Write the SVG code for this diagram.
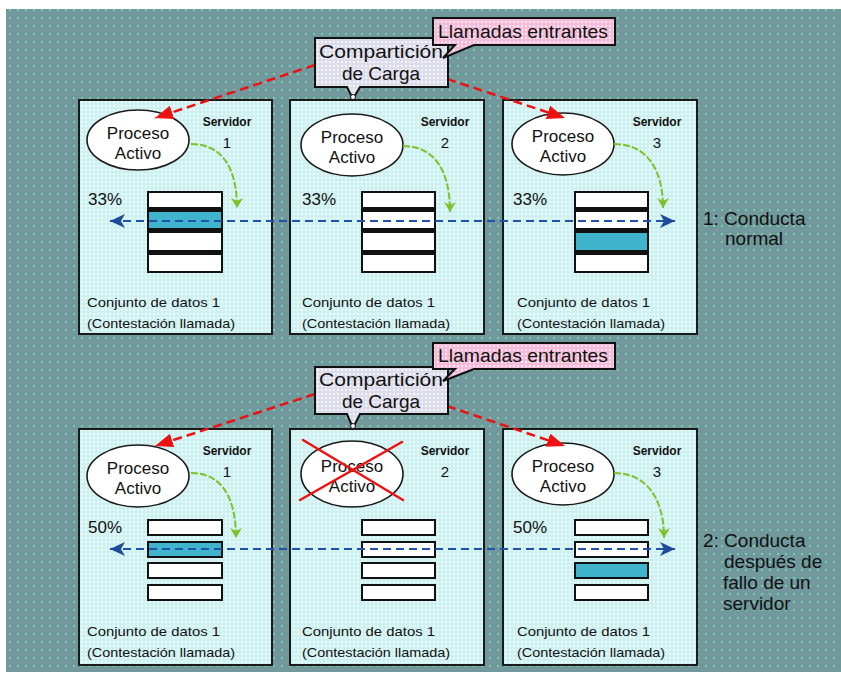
<svg xmlns="http://www.w3.org/2000/svg" width="841" height="677" viewBox="0 0 841 677">
  <defs>
    <pattern id="bgDots" width="8" height="8" patternUnits="userSpaceOnUse">
      <rect width="8" height="8" fill="#6e9a9a"/>
      <rect x="1" y="1" width="2" height="2" fill="#8cc2be"/>
      <rect x="5" y="5" width="2" height="2" fill="#8a8cb2"/>
    </pattern>
    <pattern id="boxDots" width="4" height="4" patternUnits="userSpaceOnUse">
      <rect width="4" height="4" fill="#cdf0f0"/>
      <rect x="1" y="1" width="2" height="2" fill="#eafcfc"/>
    </pattern>
    <pattern id="tagDots" width="4" height="4" patternUnits="userSpaceOnUse">
      <rect width="4" height="4" fill="#dcdcea"/>
      <rect x="1" y="1" width="2" height="2" fill="#f4f4fb"/>
    </pattern>
    <pattern id="pinkDots" width="4" height="4" patternUnits="userSpaceOnUse">
      <rect width="4" height="4" fill="#f4bcd8"/>
      <rect x="1" y="1" width="2" height="2" fill="#fde4f0"/>
    </pattern>
    <marker id="redHead" markerUnits="userSpaceOnUse" markerWidth="20" markerHeight="14" refX="18" refY="7" orient="auto">
      <path d="M0,0 L18,7 L0,14 Z" fill="#ee1111"/>
    </marker>
    <marker id="blueHead" markerUnits="userSpaceOnUse" markerWidth="16" markerHeight="14" refX="15" refY="7" orient="auto-start-reverse">
      <path d="M0,0 L15,7 L0,14 L4,7 Z" fill="#1d4c9c"/>
    </marker>
    <marker id="greenHead" markerUnits="userSpaceOnUse" markerWidth="12" markerHeight="12" refX="6" refY="10" orient="0">
      <path d="M0,0 L6,10 L12,0 L6,3 Z" fill="#7cc22a"/>
    </marker>
    <style>
      .box { fill: url(#boxDots); stroke: #1a1a1a; stroke-width: 2; }
      .proc { fill: #ffffff; stroke: #1a1a1a; stroke-width: 1.6; }
      .row { fill: #ffffff; stroke: #111111; stroke-width: 2; }
      .hi { fill: #3fb4cc; }
      .bar { fill: #111111; }
      .t { font-family: "Liberation Sans", "DejaVu Sans", sans-serif; fill: #111111; }
      .procTxt { font-size: 17px; text-anchor: middle; }
      .srv { font-size: 12px; text-anchor: middle; font-weight: bold; }
      .num { font-size: 15px; text-anchor: middle; }
      .pct { font-size: 17px; }
      .ds { font-size: 13px; }
      .side { font-size: 19px; }
      .hdr { font-size: 19px; text-anchor: middle; }
      .red { fill: none; stroke: #ee1111; stroke-width: 2.5; stroke-dasharray: 9 5; }
      .blue { fill: none; stroke: #1f52a8; stroke-width: 2; stroke-dasharray: 8 5; }
      .green { fill: none; stroke: #7cc22a; stroke-width: 2; stroke-dasharray: 7 2; }
      .cross { stroke: #ee1111; stroke-width: 2.5; stroke-linecap: round; }
    </style>
  </defs>

  <!-- page backdrop -->
  <rect width="841" height="677" fill="#ffffff"/>
  <rect x="6" y="9" width="835" height="663" fill="url(#bgDots)"/>

  <!-- ===== Scenario 1: normal behaviour ===== -->
  <g id="s1-server1">
    <rect class="box" x="79" y="100" width="193" height="234"/>
    <ellipse class="proc" cx="138" cy="140" rx="51" ry="30"/>
    <text class="t procTxt" x="138" y="139">Proceso</text>
    <text class="t procTxt" x="138" y="159">Activo</text>
    <text class="t srv" x="227" y="126">Servidor</text>
    <text class="t num" x="227" y="148">1</text>
    <text class="t pct" x="88" y="205">33%</text>
    <rect class="row" x="148" y="192" width="74" height="80"/>
    <rect class="hi" x="149" y="212" width="72" height="16"/>
    <rect class="bar" x="148" y="207" width="74" height="5"/>
    <rect class="bar" x="148" y="228" width="74" height="5"/>
    <rect class="bar" x="148" y="250" width="74" height="5"/>
    <text class="t ds" x="87" y="307" textLength="133" lengthAdjust="spacingAndGlyphs">Conjunto de datos 1</text>
    <text class="t ds" x="87" y="328" textLength="148" lengthAdjust="spacingAndGlyphs">(Contestación llamada)</text>
  </g>

  <g id="s1-server2">
    <rect class="box" x="290" y="100" width="194" height="234"/>
    <ellipse class="proc" cx="352" cy="145" rx="51" ry="31"/>
    <text class="t procTxt" x="352" y="143">Proceso</text>
    <text class="t procTxt" x="352" y="163">Activo</text>
    <text class="t srv" x="445" y="126">Servidor</text>
    <text class="t num" x="445" y="148">2</text>
    <text class="t pct" x="302" y="205">33%</text>
    <rect class="row" x="362" y="192" width="73" height="80"/>
    <rect class="bar" x="362" y="207" width="73" height="5"/>
    <rect class="bar" x="362" y="228" width="73" height="5"/>
    <rect class="bar" x="362" y="250" width="73" height="5"/>
    <text class="t ds" x="302" y="307" textLength="133" lengthAdjust="spacingAndGlyphs">Conjunto de datos 1</text>
    <text class="t ds" x="302" y="328" textLength="148" lengthAdjust="spacingAndGlyphs">(Contestación llamada)</text>
  </g>

  <g id="s1-server3">
    <rect class="box" x="503" y="100" width="194" height="234"/>
    <ellipse class="proc" cx="563" cy="144" rx="51" ry="31"/>
    <text class="t procTxt" x="563" y="142">Proceso</text>
    <text class="t procTxt" x="563" y="162">Activo</text>
    <text class="t srv" x="657" y="126">Servidor</text>
    <text class="t num" x="657" y="148">3</text>
    <text class="t pct" x="513" y="205">33%</text>
    <rect class="row" x="575" y="192" width="73" height="80"/>
    <rect class="hi" x="576" y="233" width="71" height="17"/>
    <rect class="bar" x="575" y="207" width="73" height="5"/>
    <rect class="bar" x="575" y="228" width="73" height="5"/>
    <rect class="bar" x="575" y="250" width="73" height="5"/>
    <text class="t ds" x="517" y="307" textLength="133" lengthAdjust="spacingAndGlyphs">Conjunto de datos 1</text>
    <text class="t ds" x="517" y="328" textLength="148" lengthAdjust="spacingAndGlyphs">(Contestación llamada)</text>
  </g>

  <g id="s1-connectors">
    <path class="red" d="M315,65 L155,118" marker-end="url(#redHead)"/>
    <path class="red" d="M447,79 L565,118" marker-end="url(#redHead)"/>
    <path class="blue" d="M110,221 L675,221" marker-start="url(#blueHead)" marker-end="url(#blueHead)"/>
    <path class="green" d="M191,144 C222,144 237,168 237,208" marker-end="url(#greenHead)"/>
    <path class="green" d="M403,146 C434,146 450,170 450,212" marker-end="url(#greenHead)"/>
    <path class="green" d="M614,144 C646,144 663,168 663,208" marker-end="url(#greenHead)"/>
  </g>

  <g id="s1-balancer">
    <path d="M315,38 H448 V87 H360 L353,99 L347,87 H315 Z" fill="url(#tagDots)" stroke="#111111" stroke-width="2"/>
    <circle cx="353" cy="97" r="2.5" fill="#ffffff" stroke="#111111" stroke-width="1"/>
    <text class="t hdr" x="381" y="58" textLength="124" lengthAdjust="spacingAndGlyphs">Compartición</text>
    <text class="t hdr" x="381" y="80">de Carga</text>
  </g>

  <g id="s1-incoming">
    <path d="M433,18 H615 V45 H474 L443,58 L455,45 H433 Z" fill="url(#pinkDots)" stroke="#111111" stroke-width="2"/>
    <text class="t" x="438" y="38" font-size="18" textLength="170" lengthAdjust="spacingAndGlyphs">Llamadas entrantes</text>
  </g>

  <g id="label-1">
    <text class="t side" x="703" y="225">1: Conducta</text>
    <text class="t side" x="725" y="245">normal</text>
  </g>

  <!-- ===== Scenario 2: after one server fails ===== -->
  <g id="s2-server1">
    <rect class="box" x="79" y="429" width="193" height="236"/>
    <ellipse class="proc" cx="138" cy="476" rx="51" ry="31"/>
    <text class="t procTxt" x="138" y="474">Proceso</text>
    <text class="t procTxt" x="138" y="494">Activo</text>
    <text class="t srv" x="227" y="455">Servidor</text>
    <text class="t num" x="227" y="477">1</text>
    <text class="t pct" x="88" y="533">50%</text>
    <rect class="row" x="148" y="520" width="74" height="15"/>
    <rect class="row" x="148" y="542" width="74" height="15" style="fill:#3fb4cc"/>
    <rect class="row" x="148" y="563" width="74" height="15"/>
    <rect class="row" x="148" y="585" width="74" height="15"/>
    <text class="t ds" x="87" y="636" textLength="133" lengthAdjust="spacingAndGlyphs">Conjunto de datos 1</text>
    <text class="t ds" x="87" y="657" textLength="148" lengthAdjust="spacingAndGlyphs">(Contestación llamada)</text>
  </g>

  <g id="s2-server2">
    <rect class="box" x="290" y="429" width="194" height="236"/>
    <ellipse class="proc" cx="352" cy="474" rx="51" ry="33"/>
    <text class="t procTxt" x="352" y="472">Proceso</text>
    <text class="t procTxt" x="352" y="492">Activo</text>
    <line class="cross" x1="303" y1="440" x2="403" y2="500"/>
    <line class="cross" x1="402" y1="442" x2="300" y2="500"/>
    <text class="t srv" x="445" y="455">Servidor</text>
    <text class="t num" x="445" y="477">2</text>
    <rect class="row" x="362" y="520" width="73" height="15"/>
    <rect class="row" x="362" y="542" width="73" height="15"/>
    <rect class="row" x="362" y="563" width="73" height="15"/>
    <rect class="row" x="362" y="585" width="73" height="15"/>
    <text class="t ds" x="302" y="636" textLength="133" lengthAdjust="spacingAndGlyphs">Conjunto de datos 1</text>
    <text class="t ds" x="302" y="657" textLength="148" lengthAdjust="spacingAndGlyphs">(Contestación llamada)</text>
  </g>

  <g id="s2-server3">
    <rect class="box" x="503" y="429" width="194" height="236"/>
    <ellipse class="proc" cx="563" cy="474" rx="51" ry="31"/>
    <text class="t procTxt" x="563" y="472">Proceso</text>
    <text class="t procTxt" x="563" y="492">Activo</text>
    <text class="t srv" x="657" y="455">Servidor</text>
    <text class="t num" x="657" y="477">3</text>
    <text class="t pct" x="513" y="533">50%</text>
    <rect class="row" x="575" y="520" width="73" height="15"/>
    <rect class="row" x="575" y="542" width="73" height="15"/>
    <rect class="row" x="575" y="563" width="73" height="15" style="fill:#3fb4cc"/>
    <rect class="row" x="575" y="585" width="73" height="15"/>
    <text class="t ds" x="517" y="636" textLength="133" lengthAdjust="spacingAndGlyphs">Conjunto de datos 1</text>
    <text class="t ds" x="517" y="657" textLength="148" lengthAdjust="spacingAndGlyphs">(Contestación llamada)</text>
  </g>

  <g id="s2-connectors">
    <path class="red" d="M315,394 L155,446" marker-end="url(#redHead)"/>
    <path class="red" d="M447,406 L565,446" marker-end="url(#redHead)"/>
    <path class="blue" d="M110,549 L675,549" marker-start="url(#blueHead)" marker-end="url(#blueHead)"/>
    <path class="green" d="M191,473 C222,473 236,498 236,538" marker-end="url(#greenHead)"/>
    <path class="green" d="M614,473 C646,473 664,498 664,538" marker-end="url(#greenHead)"/>
  </g>

  <g id="s2-balancer">
    <path d="M315,367 H448 V414 H360 L353,428 L347,414 H315 Z" fill="url(#tagDots)" stroke="#111111" stroke-width="2"/>
    <circle cx="353" cy="426" r="2.5" fill="#ffffff" stroke="#111111" stroke-width="1"/>
    <text class="t hdr" x="381" y="386" textLength="124" lengthAdjust="spacingAndGlyphs">Compartición</text>
    <text class="t hdr" x="381" y="408">de Carga</text>
  </g>

  <g id="s2-incoming">
    <path d="M433,343 H615 V369 H474 L443,381 L455,369 H433 Z" fill="url(#pinkDots)" stroke="#111111" stroke-width="2"/>
    <text class="t" x="438" y="362" font-size="18" textLength="170" lengthAdjust="spacingAndGlyphs">Llamadas entrantes</text>
  </g>

  <g id="label-2">
    <text class="t side" x="703" y="547">2: Conducta</text>
    <text class="t side" x="724" y="568">después de</text>
    <text class="t side" x="723" y="589">fallo de un</text>
    <text class="t side" x="723" y="610">servidor</text>
  </g>
</svg>
